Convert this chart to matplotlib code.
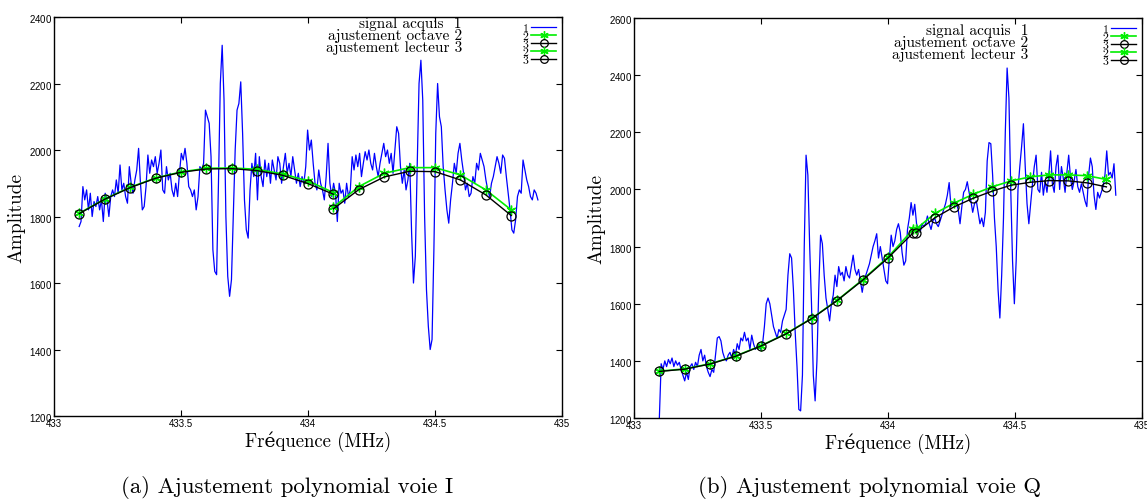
import numpy as np
import matplotlib
matplotlib.use("Agg")
import matplotlib.pyplot as plt
from matplotlib.lines import Line2D

SERIF = ["cmr10", "DejaVu Serif"]
plt.rcParams["axes.formatter.use_mathtext"] = True

# ---- voie I : signal acquis (échantillonnage régulier) ----
f_start_I, f_stop_I = 433.099, 434.905
amp_I = [
    1770, 1785, 1890, 1850, 1880, 1820, 1870, 1800, 1845, 1830,
    1860, 1820, 1850, 1785, 1870, 1850, 1800, 1860, 1880, 1860,
    1910, 1870, 1955, 1880, 1900, 1860, 1840, 1950, 1900, 1870,
    1910, 1940, 2005, 1900, 1820, 1830, 1890, 1985, 1930, 1970,
    1950, 1980, 1930, 1960, 2000, 1880, 1870, 1950, 1910, 1930,
    1880, 1860, 1900, 1860, 1930, 1990, 1970, 2005, 1960, 1890,
    1880, 1860, 1880, 1820, 1860, 1950, 1940, 1960, 2120, 2100,
    2080, 1980,
    1700, 1635, 1625, 1900, 2200, 2315, 2150, 1800, 1620, 1560,
    1610, 1800, 2000, 2120, 2140, 2205, 2050, 1850, 1760, 1735,
    1880, 1960, 1920,
    1990, 1850, 1980, 1920, 1890, 1970, 1920, 1960, 1900, 1970,
    1940, 1910, 1980, 1960, 1900, 1950, 1990, 1930, 1960, 1920,
    1980, 1940, 1900, 1930, 1890, 1920, 1900, 1950, 2060, 2000,
    2030, 1960, 1900, 1880, 1940, 1900, 1880, 1850, 1920, 2020,
    1900, 1860, 1900, 1870, 1785, 1900, 1870, 1880, 1840, 1900,
    1860, 1880, 1980, 1940, 1985, 1950, 1990, 1920, 1960, 1995,
    1970, 2000, 1960, 1940, 1990, 1950, 1920, 1960, 1990, 2020,
    1980, 2000, 1960, 1990, 1930, 2000, 2070, 2050, 1950, 1900,
    1940, 1880, 1910, 1960,
    1750, 1600, 1680, 1950, 2200, 2270, 2150, 1800, 1580, 1470,
    1400, 1430, 1700, 2050, 2200, 2100, 2070, 1950, 1880,
    1820, 1780, 1850, 1900, 1960, 1930, 1990, 2020, 1970, 1930,
    1880, 1900, 1860, 1870, 1920, 1900, 1960, 1940, 1990, 1970,
    1950, 1910, 1880, 1860, 1900, 1920, 1950, 1980, 1960, 1930,
    1985, 1975, 1920, 1870, 1820, 1760, 1750, 1790, 1860, 1880,
    1870, 1970, 1940, 1910, 1890, 1860, 1850, 1880, 1870, 1850,
]

# ---- voie I : ajustements (deux segments) ----
fit_I_f1 = [433.1, 433.2, 433.3, 433.4, 433.5, 433.6, 433.7, 433.8, 433.9, 434.0, 434.1]
octave_I_1 = [1810, 1853, 1888, 1916, 1934, 1945, 1946, 1942, 1928, 1907, 1872]
lecteur_I_1 = [1809, 1852, 1887, 1915, 1933, 1943, 1944, 1938, 1924, 1899, 1867]
fit_I_f2 = [434.1, 434.2, 434.3, 434.4, 434.5, 434.6, 434.7, 434.8]
octave_I_2 = [1828, 1890, 1930, 1947, 1947, 1925, 1880, 1820]
lecteur_I_2 = [1823, 1881, 1919, 1936, 1935, 1910, 1865, 1803]

# ---- voie Q : signal acquis ----
f_start_Q, f_stop_Q = 433.100, 434.897
amp_Q = [
    1200, 1390, 1370, 1400, 1380, 1405, 1390, 1410, 1380, 1400,
    1385, 1395, 1370, 1350, 1330, 1360, 1335, 1380, 1390, 1370,
    1395, 1380, 1420, 1440, 1400, 1420, 1380, 1360, 1345, 1370,
    1360, 1420, 1480, 1485, 1470, 1430, 1410, 1400, 1420, 1430,
    1410, 1440, 1420, 1460, 1440, 1480, 1470, 1500, 1470, 1480,
    1440, 1490, 1460, 1440, 1450, 1460, 1440, 1460, 1520, 1600,
    1620, 1600, 1560, 1520, 1500, 1480, 1510, 1500, 1540,
    1560, 1580, 1700, 1775, 1760, 1650, 1500, 1380, 1230, 1225,
    1350, 1800, 2120, 2050, 1800, 1600, 1350, 1260, 1400, 1650,
    1840, 1810, 1700, 1620, 1580, 1540, 1600, 1630, 1700, 1660,
    1730, 1700, 1710, 1680, 1730, 1700, 1690, 1730, 1770, 1720,
    1700, 1720, 1680, 1640, 1680, 1700, 1720, 1740, 1770, 1800,
    1820, 1845, 1760, 1800, 1760, 1720, 1680, 1670, 1760, 1840,
    1800, 1820, 1860, 1880, 1850, 1780, 1735, 1750, 1860,
    1900, 1954, 1910, 1948, 1880, 1860, 1850, 1880, 1870, 1880,
    1907, 1880, 1860, 1890, 1900, 1880, 1870, 1890, 1910, 1930,
    1950, 1980, 2024, 1940, 1950, 1960, 1950, 1930, 1880, 1940,
    1990, 2000, 2027, 1990, 1960, 1920, 1950, 1960, 1920, 1880,
    1900, 1870, 1920, 2100, 2164, 2160, 2050, 1900, 1800, 1650,
    1550, 1700, 1900, 2200, 2425, 2320, 2000, 1750, 1600, 1750,
    2000, 2080, 2150, 2230, 2080, 1950, 1880, 1950, 2020, 2080,
    2120, 2000, 1990, 2060, 1980, 2030, 1990, 2050, 2135, 2020,
    1990, 2080, 2120, 2000, 2080, 2040, 1990, 2060, 2120, 2040,
    2000, 2030, 2070, 2010, 1990, 2020, 1990, 1960, 1940, 2050,
    2110, 2080, 1980, 1930, 1990, 1970, 1990, 2010, 2050, 2135,
    2050, 2060, 2040, 2090, 1980,
]

# ---- voie Q : ajustements ----
fit_Q_f1 = [433.1, 433.2, 433.3, 433.4, 433.5, 433.6, 433.7, 433.8, 433.9, 434.0, 434.1]
octave_Q_1 = [1364, 1372, 1390, 1417, 1453, 1496, 1549, 1612, 1684, 1763, 1861]
lecteur_Q_1 = [1363, 1371, 1389, 1416, 1452, 1495, 1548, 1611, 1682, 1760, 1849]
fit_Q_f2 = [434.11, 434.185, 434.26, 434.335, 434.41, 434.485, 434.56, 434.635, 434.71, 434.785, 434.86]
octave_Q_2 = [1861, 1916, 1952, 1983, 2009, 2030, 2044, 2051, 2051, 2048, 2035]
lecteur_Q_2 = [1849, 1901, 1939, 1969, 1994, 2015, 2025, 2031, 2030, 2023, 2009]

xticks = [433, 433.5, 434, 434.5, 435]
xtick_labels = ["433", "433.5", "434", "434.5", "435"]
legend_text = ["signal acquis  1", "ajustement octave 2", "ajustement lecteur 3"]
captions = ["(a) Ajustement polynomial voie I", "(b) Ajustement polynomial voie Q"]

BLUE = "#0000ff"
GREEN = "#00ee00"
ASTER = (6, 2, 0)


def draw_panel(ax, freq, amp, f1, oct1, lec1, f2, oct2, lec2, yticks, text_x, text_y):
    ax.plot(freq, amp, color=BLUE, lw=0.9)
    for f, o, l in ((f1, oct1, lec1), (f2, oct2, lec2)):
        ax.plot(f, o, color=GREEN, lw=1.2, marker=ASTER, ms=7, mew=1.0)
        ax.plot(f, l, color="black", lw=1.0, marker="o", ms=6.5, mfc="none", mew=0.9)

    ax.set_xlim(433, 435)
    ax.set_ylim(yticks[0], yticks[-1])
    ax.set_xticks(xticks)
    ax.set_xticklabels(xtick_labels)
    ax.set_yticks(yticks)
    ax.tick_params(direction="in", top=True, right=True, length=4, width=0.8,
                   labelsize=7, pad=1.5)
    for lab in ax.get_xticklabels() + ax.get_yticklabels():
        lab.set_family("Liberation Sans")
    for sp in ax.spines.values():
        sp.set_linewidth(1.0)

    ax.set_ylabel("Amplitude", family=SERIF, fontsize=14, labelpad=2)
    ax.set_xlabel("Fréquence (MHz)", family=SERIF, fontsize=13.5, labelpad=1)
    ax.xaxis.set_label_coords(0.52, -0.035, transform=ax.transAxes)
    ax.xaxis.label.set_va("top")

    ax.text(text_x, text_y, "\n".join(legend_text), transform=ax.transAxes,
            ha="right", va="center", multialignment="right",
            family=SERIF, fontsize=11, linespacing=0.8)

    handles = [
        Line2D([], [], color=BLUE, lw=0.9),
        Line2D([], [], color=GREEN, lw=1.2, marker=ASTER, ms=6, mew=1.0),
        Line2D([], [], color="black", lw=1.0, marker="o", ms=5.5, mfc="none", mew=0.9),
        Line2D([], [], color=GREEN, lw=1.2, marker=ASTER, ms=6, mew=1.0),
        Line2D([], [], color="black", lw=1.0, marker="o", ms=5.5, mfc="none", mew=0.9),
    ]
    ax.legend(handles, ["1", "2", "3", "2", "3"], loc="upper right",
              frameon=False, markerfirst=False, prop={"family": SERIF, "size": 8.5},
              handlelength=2.1, handletextpad=0.25, labelspacing=-0.2,
              borderpad=0.0, borderaxespad=0.5)


fig = plt.figure(figsize=(11.47, 5.02), dpi=100)
ax1 = fig.add_axes([0.0471, 0.1693, 0.4429, 0.7948])
ax2 = fig.add_axes([0.5527, 0.1653, 0.4429, 0.7968])

freq_I = np.linspace(f_start_I, f_stop_I, len(amp_I))
freq_Q = np.linspace(f_start_Q, f_stop_Q, len(amp_Q))

draw_panel(ax1, freq_I, amp_I, fit_I_f1, octave_I_1, lecteur_I_1,
           fit_I_f2, octave_I_2, lecteur_I_2,
           [1200, 1400, 1600, 1800, 2000, 2200, 2400], 0.803, 0.955)
draw_panel(ax2, freq_Q, amp_Q, fit_Q_f1, octave_Q_1, lecteur_Q_1,
           fit_Q_f2, octave_Q_2, lecteur_Q_2,
           [1200, 1400, 1600, 1800, 2000, 2200, 2400, 2600], 0.776, 0.94)

fig.text(287 / 1147, 1 - 488 / 502, captions[0], family=SERIF, fontsize=16.4,
         ha="center", va="center")
fig.text(869 / 1147, 1 - 488 / 502, captions[1], family=SERIF, fontsize=16.4,
         ha="center", va="center")

fig.savefig("out.png", dpi=100)
